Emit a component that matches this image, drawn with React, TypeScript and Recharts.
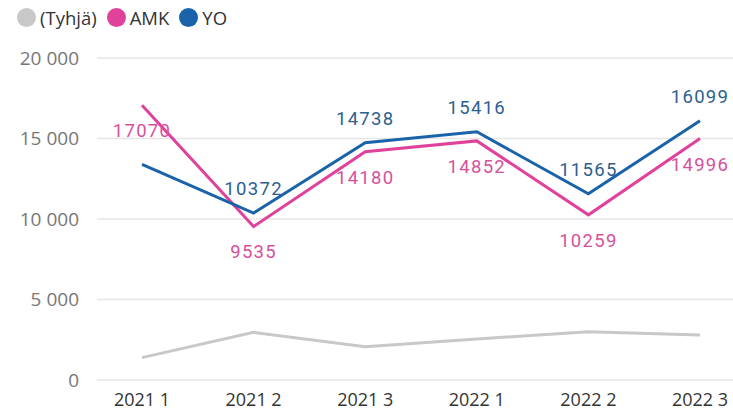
import React from "react";
import { LineChart, Line, XAxis, YAxis, CartesianGrid, LabelList } from "recharts";

const categories = ["2021 1", "2021 2", "2021 3", "2022 1", "2022 2", "2022 3"];
const tyhja = [1390, 2960, 2070, 2550, 2990, 2800];
const amk = [17070, 9535, 14180, 14852, 10259, 14996];
const yo = [13400, 10372, 14738, 15416, 11565, 16099];
const yoLabelShown = [false, true, true, true, true, true];
const yTicks = [0, 5000, 10000, 15000, 20000];

const GRAY = "#c8c8c8";
const PINK = "#e0419b";
const BLUE = "#1a63a8";
const PINK_LABEL = "#d6519c";
const BLUE_LABEL = "#2d5f8f";

const data = categories.map((c, i) => ({ cat: c, tyhja: tyhja[i], amk: amk[i], yo: yo[i], idx: i }));

const fmt = (v: number) => {
  if (v === 0) return "0";
  const s = String(v);
  return s.slice(0, s.length - 3) + " " + s.slice(s.length - 3);
};

const labelFont = "Roboto, 'DejaVu Sans', sans-serif";

const makeLabel = (color: string, dy: number, shown?: boolean[]) => (props: any) => {
  const { x, y, value, index } = props;
  if (shown && !shown[index]) return null;
  return (
    <text x={x} y={y + dy} fill={color} fontSize={18.5} fontFamily={labelFont} letterSpacing={1.3} textAnchor="middle" dominantBaseline="central">
      {value}
    </text>
  );
};

const legendItems = [
  { name: "(Tyhjä)", color: GRAY },
  { name: "AMK", color: PINK },
  { name: "YO", color: BLUE },
];

export default function App() {
  return (
    <div style={{ position: "absolute", left: 0, top: 0, width: 733, height: 415, background: "#fff" }}>
      <div style={{ position: "absolute", left: 17, top: 6, height: 22, display: "flex", alignItems: "center", fontFamily: "'Open Sans', sans-serif", fontSize: 18.5, color: "#333", whiteSpace: "nowrap" }}>
        {legendItems.map((it) => (
          <div key={it.name} style={{ display: "flex", alignItems: "center", marginRight: 10 }}>
            <span style={{ width: 19, height: 19, borderRadius: 10, background: it.color, display: "inline-block", marginRight: 4 }} />
            <span>{it.name}</span>
          </div>
        ))}
      </div>
      <LineChart width={733} height={415} data={data} margin={{ top: 58, right: 0, bottom: 0, left: 0 }}>
        <CartesianGrid horizontal vertical={false} stroke="#e6e6e6" strokeWidth={1.5} />
        <XAxis
          dataKey="cat"
          axisLine={false}
          tickLine={false}
          tickSize={0}
          tickMargin={13}
          height={35}
          padding={{ left: 45, right: 33 }}
          interval={0}
          tick={{ fill: "#333", fontSize: 18, fontFamily: "'Open Sans', sans-serif" }}
        />
        <YAxis
          domain={[0, 20000]}
          ticks={yTicks}
          width={97}
          axisLine={false}
          tickLine={false}
          tickSize={0}
          tickMargin={18}
          tickFormatter={fmt}
          tick={{ fill: "#777", fontSize: 19, fontFamily: "'Open Sans', sans-serif" }}
        />
        <Line dataKey="tyhja" stroke={GRAY} strokeWidth={3} dot={false} isAnimationActive={false} />
        <Line dataKey="amk" stroke={PINK} strokeWidth={3} dot={false} isAnimationActive={false}>
          <LabelList dataKey="amk" content={makeLabel(PINK_LABEL, 26)} />
        </Line>
        <Line dataKey="yo" stroke={BLUE} strokeWidth={3} dot={false} isAnimationActive={false}>
          <LabelList dataKey="yo" content={makeLabel(BLUE_LABEL, -24, yoLabelShown)} />
        </Line>
      </LineChart>
    </div>
  );
}
